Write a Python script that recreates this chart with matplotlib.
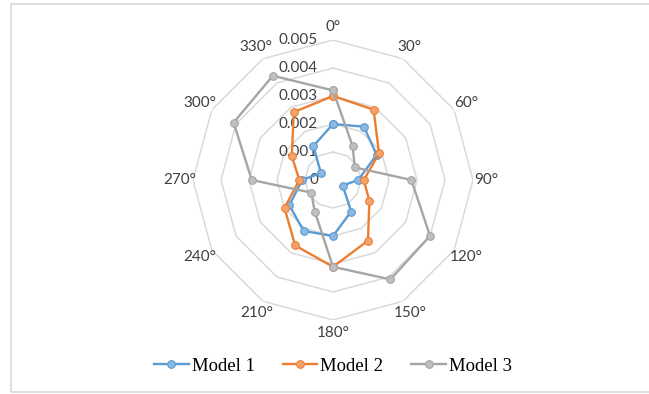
import numpy as np
import matplotlib
matplotlib.use("Agg")
from matplotlib import pyplot as plt
from matplotlib import transforms
from matplotlib.patches import Rectangle

# angle categories (degrees) and the three model series
angles_deg = [0, 30, 60, 90, 120, 150, 180, 210, 240, 270, 300, 330]
angle_labels = [f"{a}°" for a in angles_deg]
model1 = [0.0020, 0.0022, 0.0018, 0.0009, 0.0004, 0.0013, 0.0020, 0.0021, 0.0018, 0.0011, 0.0005, 0.0014]
model2 = [0.0030, 0.0029, 0.0019, 0.0011, 0.0015, 0.0025, 0.0031, 0.0027, 0.0020, 0.0012, 0.0017, 0.0028]
model3 = [0.0032, 0.0014, 0.0009, 0.0028, 0.0040, 0.0041, 0.0031, 0.0013, 0.0009, 0.0029, 0.0041, 0.0043]
ring_values = [0.001, 0.002, 0.003, 0.004, 0.005]
ring_labels = ["0", "0.001", "0.002", "0.003", "0.004", "0.005"]

series = [("Model 1", model1, "#5B9BD5", "#8DB8E2"),
          ("Model 2", model2, "#ED7D31", "#F3A36E"),
          ("Model 3", model3, "#A5A5A5", "#BFBFBF")]

W, H = 649, 394
fig = plt.figure(figsize=(W / 100, H / 100), dpi=100)

# light outer frame
fig.patches.append(Rectangle((11 / W, 1 - 392 / H), 700 / W, 388 / H,
                             transform=fig.transFigure, fill=False,
                             edgecolor="#D9D9D9", linewidth=1.2))

cx, cy, R = 333, 180, 140
ax = fig.add_axes([(cx - R) / W, (H - cy - R) / H, 2 * R / W, 2 * R / H],
                  projection="polar")
ax.set_theta_zero_location("N")
ax.set_theta_direction(-1)
ax.set_ylim(0, 0.005)
ax.grid(False)
ax.spines["polar"].set_visible(False)
ax.set_xticks([])
ax.set_yticks([])
ax.patch.set_alpha(0)

theta = np.deg2rad(angles_deg)
theta_closed = np.append(theta, theta[0])

# polygon rings
for r in ring_values:
    ax.plot(theta_closed, [r] * len(theta_closed), color="#D9D9D9", lw=1.1, zorder=1)

# category labels around the outside
for t, lab in zip(theta, angle_labels):
    ax.text(t, 0.00548, lab, ha="center", va="center", fontsize=11,
            family="Lato", color="#404040", clip_on=False)

# value labels to the left of the vertical axis
off = transforms.offset_copy(ax.transData, fig=fig, x=-15, y=0, units="dots")
for i, lab in enumerate(ring_labels):
    ax.text(0, i * 0.001, lab, ha="right", va="center", fontsize=11,
            family="Lato", color="#404040", transform=off, zorder=2)

for name, vals, col, fill in series:
    v = np.append(vals, vals[0])
    ax.plot(theta_closed, v, color=col, lw=1.7, marker="o", markersize=5.5,
            markerfacecolor=fill, markeredgecolor=col, markeredgewidth=0.8,
            label=name, zorder=3)

fig.legend(loc="center", bbox_to_anchor=(cx / W, 1 - 366 / H), ncol=3,
           frameon=False, prop={"family": "Liberation Serif", "size": 13.5},
           handlelength=1.85, handletextpad=0.15, columnspacing=1.5)

fig.savefig("out.png", dpi=100)
